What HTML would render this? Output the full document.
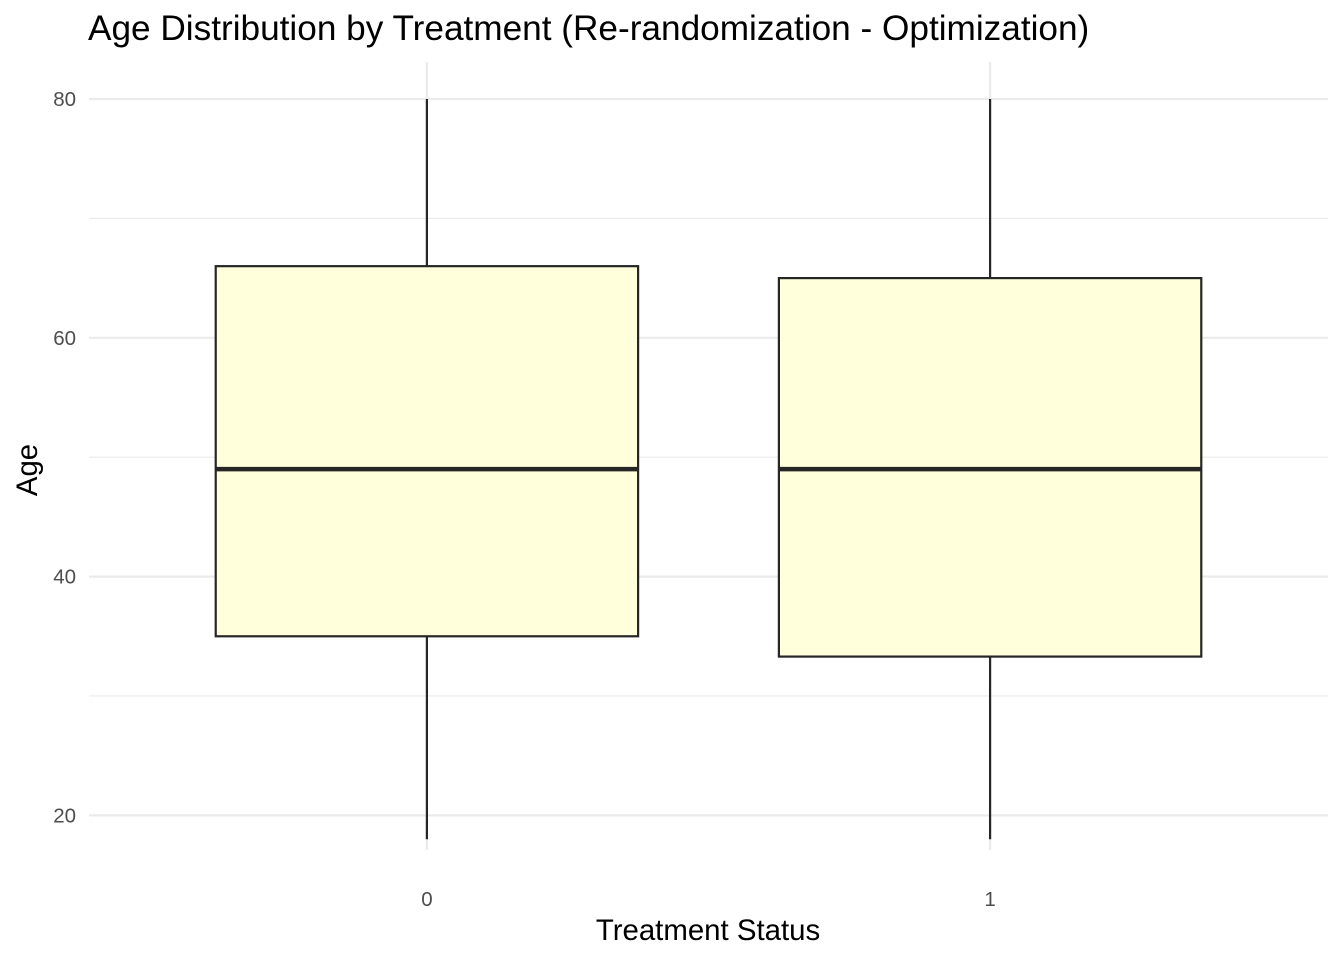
<!DOCTYPE html>
<html><head><meta charset="utf-8"><style>
body{margin:0;background:#fff;font-family:"Liberation Sans",sans-serif}
</style></head><body>
<svg id="chart" width="1344" height="960" xmlns="http://www.w3.org/2000/svg">
<text x="88" y="40" font-size="35.2" fill="#000">Age Distribution by Treatment (Re-randomization - Optimization)</text>
<g id="grid"></g><g id="boxes"></g><g id="ticks"></g>
<text x="708" y="940" font-size="29.4" text-anchor="middle" fill="#000">Treatment Status</text>
<text transform="translate(37,470) rotate(-90)" font-size="29.4" text-anchor="middle" fill="#000">Age</text>
</svg>
<script>
const categories=["0","1"];
const lowers=[18,18];
const q1s=[35,33.3];
const medians=[49,49];
const q3s=[66,65];
const uppers=[80,80];
const yTicks=[20,40,60,80];
const yMinor=[30,50,70];
const NS="http://www.w3.org/2000/svg";
const x0=89,x1=1328,yTop=62,yBot=850,yMin=17.1,yMax=83.1;
function y(v){return yBot-(v-yMin)/(yMax-yMin)*(yBot-yTop);}
const step=(x1-x0)/(categories.length-1+1.2);
function x(i){return x0+step*(0.6+i);}
function mk(t,a,p){const e=document.createElementNS(NS,t);for(const k in a)e.setAttribute(k,a[k]);p.appendChild(e);return e;}
const g=document.getElementById('grid'),b=document.getElementById('boxes'),tk=document.getElementById('ticks');
yMinor.forEach(v=>{const l=mk('line',{x1:x0,x2:x1,y1:y(v),y2:y(v),stroke:'#ebebeb','stroke-width':1.1},g);

});
yTicks.forEach(v=>{const l=mk('line',{x1:x0,x2:x1,y1:y(v),y2:y(v),stroke:'#ebebeb','stroke-width':2.2},g);


const t=mk('text',{x:76,y:y(v)+7,'font-size':20.5,'text-anchor':'end',fill:'#4d4d4d'},tk);t.textContent=v;

});
categories.forEach((c,i)=>{const l=mk('line',{x1:x(i),x2:x(i),y1:yTop,y2:yBot,stroke:'#ebebeb','stroke-width':2.2},g);


const t=mk('text',{x:x(i),y:906,'font-size':20.5,'text-anchor':'middle',fill:'#4d4d4d'},tk);t.textContent=c;


const hw=step*0.375;
const w1=mk('line',{x1:x(i),x2:x(i),y1:y(uppers[i]),y2:y(q3s[i]),stroke:'#262626','stroke-width':2.2},b);


const w2=mk('line',{x1:x(i),x2:x(i),y1:y(q1s[i]),y2:y(lowers[i]),stroke:'#262626','stroke-width':2.2},b);


const r=mk('rect',{x:x(i)-hw,y:y(q3s[i]),width:2*hw,height:y(q1s[i])-y(q3s[i]),fill:'#ffffdc',stroke:'#262626','stroke-width':2.2},b);


const m=mk('line',{x1:x(i)-hw,x2:x(i)+hw,y1:y(medians[i]),y2:y(medians[i]),stroke:'#262626','stroke-width':4.5},b);

});
</script>
</body></html>
